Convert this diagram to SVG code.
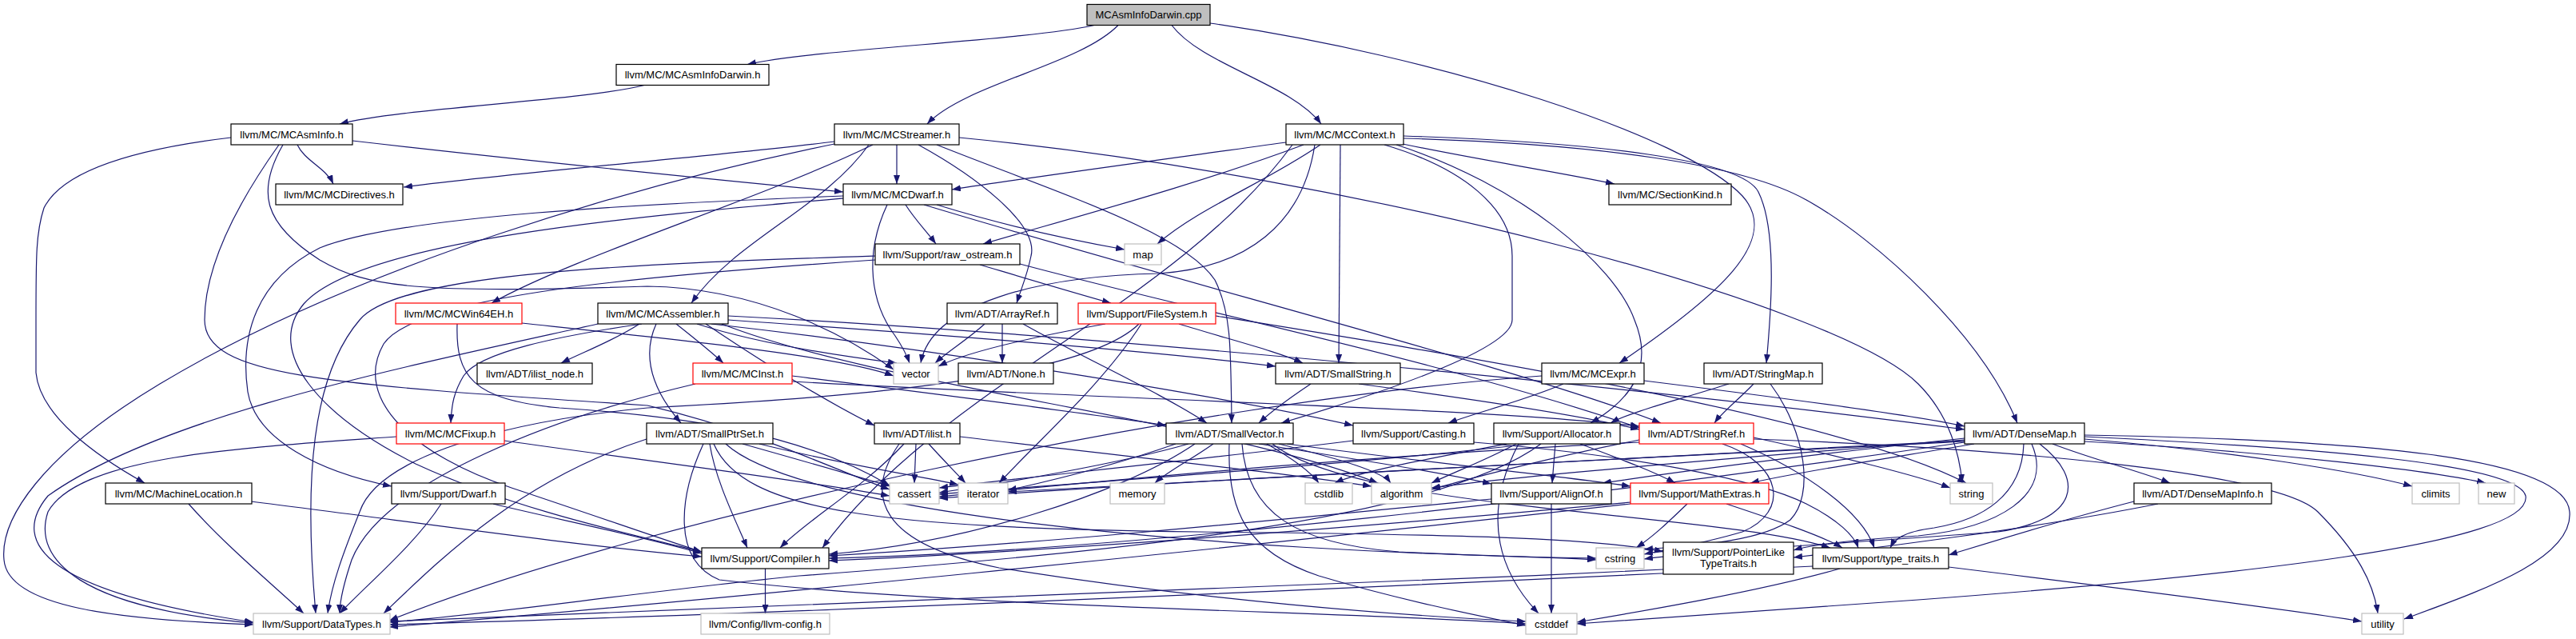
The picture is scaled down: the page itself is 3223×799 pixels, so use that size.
<svg xmlns="http://www.w3.org/2000/svg" width="3223" height="799" viewBox="0 0 3223 799">
<defs>
<style>
.node rect{fill:#ffffff;stroke:#000000;stroke-width:1.2}
.node text{font-family:"Liberation Sans",Arial,Helvetica,sans-serif;font-size:13px;text-anchor:middle;fill:#000000}
.red rect{stroke:#ff0000}
.ext rect{stroke:#bfbfbf}
.root rect{fill:#bfbfbf}
#edges path{fill:none;stroke:#191970;stroke-width:1.2;marker-end:url(#arr)}
</style>
<marker id="arr" viewBox="0 0 11 8" refX="11" refY="4" markerWidth="11" markerHeight="8" markerUnits="userSpaceOnUse" orient="auto"><path d="M0,0 L11,4 L0,8 z" fill="#191970"/></marker>
</defs>
<rect x="0" y="0" width="3223" height="799" fill="#ffffff"/>
<g id="edges">
<path d="M1369,31.5 C1282,51 1022,61 935,80.5"/>
<path d="M1399,31.5 C1351,81 1208,105 1160,155"/>
<path d="M1466,31.5 C1503,81 1616,105 1653,155"/>
<path d="M1514,29 C1800,70 2110,170 2180,245 C2230,300 2150,370 2026,454"/>
<path d="M806,106.5 C730,126 501,135 425,155"/>
<path d="M289,172 C180,185 80,210 55,260 C45,290 45,320 45,400 L45,466 C50,520 120,570 181,604"/>
<path d="M372,181 C381,201 408,210 417,230"/>
<path d="M441,176 C650,200 900,225 1055,240"/>
<path d="M349,181 C300,250 256,330 256,400 C256,470 400,480 810,507 C950,540 1050,590 1113,612"/>
<path d="M354,181 C320,240 330,280 400,325 C460,360 520,367 810,358 C950,360 1060,420 1118,462"/>
<path d="M1149,181 C1220,220 1300,280 1290,320 C1285,345 1278,360 1272,379"/>
<path d="M1172,181 C1320,240 1480,290 1520,350 C1540,390 1540,430 1541,529"/>
<path d="M1087,181 C1031,260 920,300 865,379"/>
<path d="M1044,177 C900,195 650,215 505,234"/>
<path d="M1122,181 L1122,230"/>
<path d="M1092,181 C950,250 720,320 615,379"/>
<path d="M1044,180 C800,230 450,330 200,480 C50,570 0,650 5,700 C10,760 150,775 317,781"/>
<path d="M1200,172 C1700,220 2300,380 2400,480 C2440,520 2452,570 2455,604"/>
<path d="M1756,173 C2000,180 2180,205 2260,250 C2350,300 2480,420 2524,529"/>
<path d="M1677,181 L1675,454"/>
<path d="M1732,181 C1830,210 1892,260 1892,320 L1892,400 C1892,440 1700,500 1603,529"/>
<path d="M1756,170 C2000,178 2180,200 2200,240 C2225,290 2215,400 2210,454"/>
<path d="M1609,178 C1450,200 1300,220 1191,237"/>
<path d="M1755,180 C1850,200 1950,215 2020,230"/>
<path d="M1747,181 C1900,230 2020,330 2045,400 C2070,460 2040,500 1990,529"/>
<path d="M1617,181 C1470,383 1176,483 1029,685"/>
<path d="M1631,181 C1500,230 1350,270 1230,305"/>
<path d="M1652,181 C1580,230 1500,260 1448,305"/>
<path d="M1645,181 C1630,280 1560,335 1450,342 C1300,345 1165,380 1152,454"/>
<path d="M1156,256 C1500,360 1900,460 2078,529"/>
<path d="M1055,248 C800,270 450,300 380,380 C330,440 400,520 520,580 C650,640 800,670 878,690"/>
<path d="M1055,245 C800,255 500,270 400,310 C320,350 300,420 310,490 C320,550 400,590 490,608"/>
<path d="M1133,256 C1145,275 1160,290 1171,305"/>
<path d="M1172,256 C1250,280 1340,300 1407,312"/>
<path d="M1110,256 C1080,320 1090,380 1120,420 C1130,435 1135,445 1138,454"/>
<path d="M1276,330 C1500,390 1800,450 2051,535"/>
<path d="M1095,320 C800,330 500,340 450,400 C390,470 380,600 395,767"/>
<path d="M1095,325 C800,345 520,370 480,430 C440,500 520,570 640,610 C760,650 830,675 878,690"/>
<path d="M1226,331 C1290,350 1340,365 1390,379"/>
<path d="M803,405 C700,420 600,440 580,470 C568,490 565,505 564,529"/>
<path d="M572,405 C570,470 590,500 700,510 C850,520 1000,540 1113,607"/>
<path d="M653,404 C850,425 1050,445 1118,470"/>
<path d="M911,395 C1400,420 2100,490 2458,537"/>
<path d="M911,400 C1200,420 1450,440 1596,458"/>
<path d="M821,405 C805,440 810,480 852,529"/>
<path d="M883,405 C950,450 1030,500 1094,532"/>
<path d="M800,405 C770,425 730,440 702,454"/>
<path d="M846,405 C865,420 890,440 905,454"/>
<path d="M890,405 C1200,440 1550,500 1693,532"/>
<path d="M748,405 C500,460 200,520 60,620 C10,680 60,740 317,778"/>
<path d="M872,405 C950,430 1050,445 1122,454"/>
<path d="M903,405 C1108,485 1519,524 1724,604"/>
<path d="M1254,405 L1254,454"/>
<path d="M1280,405 C1360,450 1450,490 1510,529"/>
<path d="M1232,405 C1210,425 1185,440 1170,454"/>
<path d="M1475,405 C1540,425 1600,440 1630,454"/>
<path d="M1425,405 C1350,480 1000,500 810,510 C600,530 470,580 450,640 C430,690 415,730 410,767"/>
<path d="M1383,405 C1300,420 1210,440 1174,458"/>
<path d="M1428,405 C1380,480 1300,550 1250,604"/>
<path d="M1521,395 C1800,440 2300,520 2460,604"/>
<path d="M991,470 C1150,490 1350,515 1459,532"/>
<path d="M991,477 C1400,500 1850,510 2051,533"/>
<path d="M870,480 C700,520 480,600 440,700 C430,730 425,750 425,767"/>
<path d="M1640,480 C1610,500 1590,515 1575,529"/>
<path d="M1700,480 C1850,500 1980,520 2051,537"/>
<path d="M1956,480 C1910,500 1850,515 1812,529"/>
<path d="M1929,470 C1500,500 800,650 487,776"/>
<path d="M2057,476 C2250,500 2400,520 2458,533"/>
<path d="M2194,480 C2175,500 2155,515 2145,529"/>
<path d="M2163,480 C2100,500 2040,515 2015,529"/>
<path d="M2215,480 C2260,540 2270,620 2240,650 C2200,680 2100,683 2057,687"/>
<path d="M496,546 C300,560 100,570 60,640 C40,700 100,760 317,779"/>
<path d="M631,551 C800,575 1000,600 1113,620"/>
<path d="M888,555 C895,600 920,650 935,685"/>
<path d="M809,549 C650,600 550,700 480,767"/>
<path d="M893,555 C930,640 1100,660 1500,665 C1800,668 2000,672 2081,690"/>
<path d="M929,555 C1000,575 1070,595 1113,608"/>
<path d="M880,555 C850,620 840,700 900,725 C1200,760 1700,765 1909,780"/>
<path d="M908,555 C1000,640 1500,690 1997,698"/>
<path d="M950,555 C1050,580 1150,595 1199,606"/>
<path d="M1131,555 C1080,610 1010,650 976,685"/>
<path d="M1201,546 C1400,570 1600,590 1716,608"/>
<path d="M1146,555 L1144,604"/>
<path d="M1125,555 C1080,620 1100,680 1250,710 C1500,750 1750,770 1909,777"/>
<path d="M1162,555 C1180,575 1195,590 1208,604"/>
<path d="M1575,555 C1700,575 1800,590 1866,605"/>
<path d="M1495,555 C1400,620 1200,680 1037,693"/>
<path d="M1610,555 C1800,580 1950,595 2040,608"/>
<path d="M1592,555 C1700,640 2150,640 2290,685"/>
<path d="M1600,555 C1680,575 1730,590 1740,604"/>
<path d="M1487,555 C1400,580 1250,605 1175,616"/>
<path d="M1538,555 C1535,640 1560,690 1650,720 C1750,750 1850,770 1909,782"/>
<path d="M1585,555 C1620,575 1640,590 1650,604"/>
<path d="M1554,555 C1560,640 1620,680 1750,690 C1850,695 1950,697 1997,700"/>
<path d="M1471,555 C1400,580 1320,600 1261,613"/>
<path d="M1518,555 C1490,575 1460,590 1445,604"/>
<path d="M1844,553 C2050,570 2200,600 2260,630 C2300,650 2320,670 2325,685"/>
<path d="M1693,551 C1500,575 1300,595 1175,610"/>
<path d="M1946,555 L1942,604"/>
<path d="M1928,555 C1800,650 1400,690 1000,720 C800,740 600,770 487,778"/>
<path d="M1977,555 C2030,575 2070,590 2096,604"/>
<path d="M1897,555 C1860,575 1820,590 1791,604"/>
<path d="M1915,555 C1700,580 1400,600 1175,618"/>
<path d="M1900,555 C1850,650 1880,720 1925,767"/>
<path d="M1885,555 C1780,575 1700,590 1670,604"/>
<path d="M2178,555 C2260,590 2330,640 2345,685"/>
<path d="M2051,550 C1950,570 1850,595 1791,612"/>
<path d="M2051,553 C1700,570 1400,600 1175,621"/>
<path d="M2155,555 C2230,580 2240,640 2180,665 C2130,680 2080,688 2057,693"/>
<path d="M2194,547 C2300,570 2400,595 2440,610"/>
<path d="M2194,549 C2500,560 2850,590 2900,640 C2950,690 2970,730 2975,767"/>
<path d="M2568,555 C2620,575 2680,590 2715,604"/>
<path d="M2458,548 C2250,570 2100,590 2005,604"/>
<path d="M2458,553 C2000,620 1400,690 1037,698"/>
<path d="M2470,555 C2350,575 2250,590 2190,604"/>
<path d="M2542,555 C2570,620 2500,660 2400,670 C2320,675 2270,680 2244,688"/>
<path d="M2532,555 C2530,620 2480,650 2420,660 C2380,665 2370,675 2365,685"/>
<path d="M2458,550 C2200,570 1900,595 1791,610"/>
<path d="M2458,552 C2000,575 1500,600 1175,623"/>
<path d="M2608,549 C2800,565 2950,590 3018,608"/>
<path d="M2608,546 C2900,560 3150,580 3160,620 C3170,680 2800,720 2400,750 C2200,765 2050,775 1973,780"/>
<path d="M2552,555 C2610,600 2600,650 2500,665 C2300,680 2120,690 2057,699"/>
<path d="M2458,551 C2000,575 1500,600 1261,615"/>
<path d="M2608,552 C2850,565 3050,590 3110,604"/>
<path d="M2608,544 C2950,550 3210,570 3215,640 C3220,700 3100,740 3008,774"/>
<path d="M1941,630 L1941,767"/>
<path d="M1866,624 C1600,650 1300,680 1037,695"/>
<path d="M2040,628 C1700,660 1300,690 1037,701"/>
<path d="M2040,630 C1500,690 900,750 487,784"/>
<path d="M2160,630 C2220,650 2280,670 2305,685"/>
<path d="M2111,630 C2090,650 2070,670 2047,685"/>
<path d="M2700,630 C2550,660 2350,685 2244,697"/>
<path d="M2670,627 C2580,650 2500,675 2438,694"/>
<path d="M2081,712 C1500,740 900,765 487,777"/>
<path d="M2268,708 C1600,740 900,770 487,781"/>
<path d="M2302,711 C2200,740 2050,765 1973,778"/>
<path d="M2438,709 C2650,735 2850,760 2955,777"/>
<path d="M957.5,711 L957.5,767"/>
<path d="M617,630 C700,650 800,670 878,692"/>
<path d="M552,630 C520,680 460,730 425,767"/>
<path d="M314,627 C500,650 700,680 878,696"/>
<path d="M236,630 C280,680 340,730 380,767"/>
</g>
<g id="n_root" class="node root"><rect x="1360" y="5.5" width="154" height="26"/><text x="1437" y="23">MCAsmInfoDarwin.cpp</text></g>
<g id="n_MCAsmInfoDarwin_h" class="node"><rect x="771" y="80.5" width="191" height="26"/><text x="866.5" y="98">llvm/MC/MCAsmInfoDarwin.h</text></g>
<g id="n_MCAsmInfo_h" class="node"><rect x="289" y="155" width="152" height="26"/><text x="365" y="172.5">llvm/MC/MCAsmInfo.h</text></g>
<g id="n_MCStreamer_h" class="node"><rect x="1044" y="155" width="156" height="26"/><text x="1122" y="172.5">llvm/MC/MCStreamer.h</text></g>
<g id="n_MCContext_h" class="node"><rect x="1609" y="155" width="147" height="26"/><text x="1682.5" y="172.5">llvm/MC/MCContext.h</text></g>
<g id="n_MCDirectives_h" class="node"><rect x="345" y="230" width="159" height="26"/><text x="424.5" y="247.5">llvm/MC/MCDirectives.h</text></g>
<g id="n_MCDwarf_h" class="node"><rect x="1055" y="230" width="136" height="26"/><text x="1123" y="247.5">llvm/MC/MCDwarf.h</text></g>
<g id="n_SectionKind_h" class="node"><rect x="2013" y="230" width="153" height="26"/><text x="2089.5" y="247.5">llvm/MC/SectionKind.h</text></g>
<g id="n_raw_ostream_h" class="node"><rect x="1095" y="305" width="181" height="26"/><text x="1185.5" y="322.5">llvm/Support/raw_ostream.h</text></g>
<g id="n_map" class="node ext"><rect x="1407" y="305" width="46" height="26"/><text x="1430" y="322.5">map</text></g>
<g id="n_MCWin64EH_h" class="node red"><rect x="495" y="379" width="158" height="26"/><text x="574" y="396.5">llvm/MC/MCWin64EH.h</text></g>
<g id="n_MCAssembler_h" class="node"><rect x="748" y="379" width="163" height="26"/><text x="829.5" y="396.5">llvm/MC/MCAssembler.h</text></g>
<g id="n_ArrayRef_h" class="node"><rect x="1185" y="379" width="138" height="26"/><text x="1254" y="396.5">llvm/ADT/ArrayRef.h</text></g>
<g id="n_FileSystem_h" class="node red"><rect x="1349" y="379" width="172" height="26"/><text x="1435" y="396.5">llvm/Support/FileSystem.h</text></g>
<g id="n_ilist_node_h" class="node"><rect x="597" y="454" width="144" height="26"/><text x="669" y="471.5">llvm/ADT/ilist_node.h</text></g>
<g id="n_MCInst_h" class="node red"><rect x="867" y="454" width="124" height="26"/><text x="929" y="471.5">llvm/MC/MCInst.h</text></g>
<g id="n_vector" class="node ext"><rect x="1118" y="454" width="56" height="26"/><text x="1146" y="471.5">vector</text></g>
<g id="n_None_h" class="node"><rect x="1199" y="454" width="119" height="26"/><text x="1258.5" y="471.5">llvm/ADT/None.h</text></g>
<g id="n_SmallString_h" class="node"><rect x="1596" y="454" width="156" height="26"/><text x="1674" y="471.5">llvm/ADT/SmallString.h</text></g>
<g id="n_MCExpr_h" class="node"><rect x="1929" y="454" width="128" height="26"/><text x="1993" y="471.5">llvm/MC/MCExpr.h</text></g>
<g id="n_StringMap_h" class="node"><rect x="2132" y="454" width="148" height="26"/><text x="2206" y="471.5">llvm/ADT/StringMap.h</text></g>
<g id="n_MCFixup_h" class="node red"><rect x="496" y="529" width="135" height="26"/><text x="563.5" y="546.5">llvm/MC/MCFixup.h</text></g>
<g id="n_SmallPtrSet_h" class="node"><rect x="809" y="529" width="158" height="26"/><text x="888" y="546.5">llvm/ADT/SmallPtrSet.h</text></g>
<g id="n_ilist_h" class="node"><rect x="1094" y="529" width="107" height="26"/><text x="1147.5" y="546.5">llvm/ADT/ilist.h</text></g>
<g id="n_SmallVector_h" class="node"><rect x="1459" y="529" width="159" height="26"/><text x="1538.5" y="546.5">llvm/ADT/SmallVector.h</text></g>
<g id="n_Casting_h" class="node"><rect x="1693" y="529" width="151" height="26"/><text x="1768.5" y="546.5">llvm/Support/Casting.h</text></g>
<g id="n_Allocator_h" class="node"><rect x="1869" y="529" width="158" height="26"/><text x="1948" y="546.5">llvm/Support/Allocator.h</text></g>
<g id="n_StringRef_h" class="node red"><rect x="2051" y="529" width="143" height="26"/><text x="2122.5" y="546.5">llvm/ADT/StringRef.h</text></g>
<g id="n_DenseMap_h" class="node"><rect x="2458" y="529" width="150" height="26"/><text x="2533" y="546.5">llvm/ADT/DenseMap.h</text></g>
<g id="n_MachineLocation_h" class="node"><rect x="132" y="604" width="183" height="26"/><text x="223.5" y="621.5">llvm/MC/MachineLocation.h</text></g>
<g id="n_Dwarf_h" class="node"><rect x="490" y="604" width="142" height="26"/><text x="561" y="621.5">llvm/Support/Dwarf.h</text></g>
<g id="n_cassert" class="node ext"><rect x="1113" y="604" width="62" height="26"/><text x="1144" y="621.5">cassert</text></g>
<g id="n_iterator" class="node ext"><rect x="1199" y="604" width="62" height="26"/><text x="1230" y="621.5">iterator</text></g>
<g id="n_memory" class="node ext"><rect x="1389" y="604" width="68" height="26"/><text x="1423" y="621.5">memory</text></g>
<g id="n_cstdlib" class="node ext"><rect x="1633" y="604" width="59" height="26"/><text x="1662.5" y="621.5">cstdlib</text></g>
<g id="n_algorithm" class="node ext"><rect x="1716" y="604" width="75" height="26"/><text x="1753.5" y="621.5">algorithm</text></g>
<g id="n_AlignOf_h" class="node"><rect x="1866" y="604" width="150" height="26"/><text x="1941" y="621.5">llvm/Support/AlignOf.h</text></g>
<g id="n_MathExtras_h" class="node red"><rect x="2040" y="604" width="173" height="26"/><text x="2126.5" y="621.5">llvm/Support/MathExtras.h</text></g>
<g id="n_string" class="node ext"><rect x="2440" y="604" width="53" height="26"/><text x="2466.5" y="621.5">string</text></g>
<g id="n_DenseMapInfo_h" class="node"><rect x="2670" y="604" width="172" height="26"/><text x="2756" y="621.5">llvm/ADT/DenseMapInfo.h</text></g>
<g id="n_climits" class="node ext"><rect x="3018" y="604" width="59" height="26"/><text x="3047.5" y="621.5">climits</text></g>
<g id="n_new" class="node ext"><rect x="3101" y="604" width="45" height="26"/><text x="3123.5" y="621.5">new</text></g>
<g id="n_Compiler_h" class="node"><rect x="878" y="685" width="159" height="26"/><text x="957.5" y="702.5">llvm/Support/Compiler.h</text></g>
<g id="n_cstring" class="node ext"><rect x="1997" y="685" width="60" height="26"/><text x="2027" y="702.5">cstring</text></g>
<g id="n_PointerLikeTypeTraits_h" class="node"><rect x="2081" y="678" width="163" height="40"/><text x="2162.5" y="694.5">llvm/Support/PointerLike</text><text x="2162.5" y="709">TypeTraits.h</text></g>
<g id="n_type_traits_h" class="node"><rect x="2268" y="685" width="170" height="26"/><text x="2353" y="702.5">llvm/Support/type_traits.h</text></g>
<g id="n_DataTypes_h" class="node ext"><rect x="317" y="767" width="171" height="26"/><text x="402.5" y="784.5">llvm/Support/DataTypes.h</text></g>
<g id="n_llvm_config_h" class="node ext"><rect x="877" y="767" width="161" height="26"/><text x="957.5" y="784.5">llvm/Config/llvm-config.h</text></g>
<g id="n_cstddef" class="node ext"><rect x="1909" y="767" width="64" height="26"/><text x="1941" y="784.5">cstddef</text></g>
<g id="n_utility" class="node ext"><rect x="2955" y="767" width="52" height="26"/><text x="2981" y="784.5">utility</text></g>
</svg>
